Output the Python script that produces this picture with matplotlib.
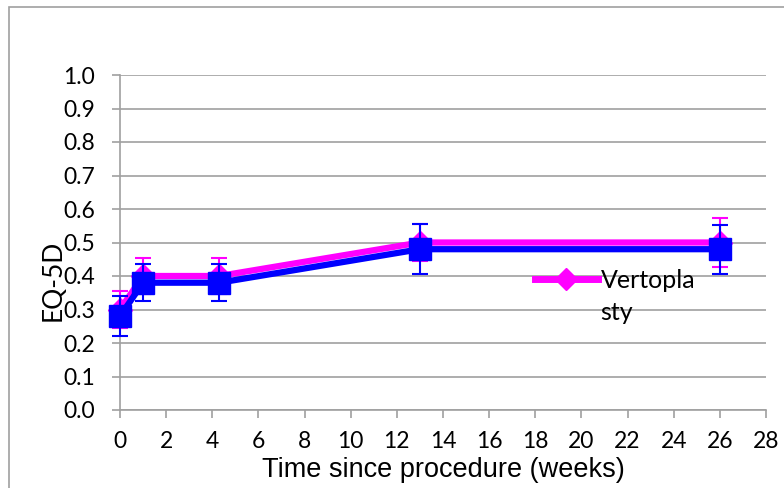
import matplotlib
matplotlib.use("Agg")
import matplotlib.pyplot as plt
from matplotlib.lines import Line2D
from matplotlib.patches import Rectangle

# Data
weeks = [0, 1, 4.3, 13, 26]
vertoplasty = [0.30, 0.40, 0.40, 0.50, 0.50]
vertoplasty_err = [0.055, 0.055, 0.055, 0.054, 0.074]
other = [0.28, 0.38, 0.38, 0.48, 0.48]
other_err = [0.06, 0.055, 0.055, 0.074, 0.073]

x_ticks = list(range(0, 29, 2))
y_ticks = [i / 10 for i in range(11)]

GRID = "#a0a0a0"
MAGENTA = "#ff00ff"
BLUE = "#0000ff"

fig = plt.figure(figsize=(7.84, 4.88), dpi=100)
ax = fig.add_axes([120 / 784, 78 / 488, 646 / 784, 335 / 488])

# outer chart border (clipped by the image on the right and bottom)
fig.patches.append(Rectangle((9 / 784, -0.1), 1.2, 1.1 - 7 / 488,
                             transform=fig.transFigure, fill=False,
                             edgecolor=GRID, linewidth=1.2))

series = [
    (vertoplasty, vertoplasty_err, MAGENTA, "D", 12, 3),
    (other, other_err, BLUE, "s", 15.5, 4),
]
for vals, errs, col, mk, ms, z in series:
    parts = ax.errorbar(weeks, vals, yerr=errs, color=col, linewidth=4.5,
                        marker=mk, markersize=ms, capsize=6,
                        elinewidth=1.5, capthick=1.5, zorder=z)
    for artist in parts.get_children():
        artist.set_clip_on(False)

ax.set_xlim(0, 28)
ax.set_ylim(0, 1.0)
ax.set_xticks(x_ticks)
ax.set_yticks(y_ticks)
ax.set_yticklabels(["{:.1f}".format(v) for v in y_ticks])

for side in ["top", "right"]:
    ax.spines[side].set_visible(False)
for side in ["left", "bottom"]:
    ax.spines[side].set_color(GRID)
    ax.spines[side].set_linewidth(1.2)
ax.yaxis.grid(True, color=GRID, linewidth=1.2)
ax.set_axisbelow(True)
ax.tick_params(axis="both", color=GRID, width=1.2, length=6,
               labelsize=16.5, labelfontfamily="Lato")
ax.tick_params(axis="y", pad=12)
ax.tick_params(axis="x", pad=9)

ax.set_xlabel("Time since procedure (weeks)", fontsize=19.5,
              family="Liberation Sans", labelpad=4)
fig.text(53 / 784, 1 - 280 / 488, "EQ-5D", rotation=90, ha="center",
         va="center", fontsize=19, family="Lato")

handle = Line2D([], [], color=MAGENTA, linewidth=5, marker="D",
                markersize=11)
leg = ax.legend([handle], ["Vertopla"], loc="center left",
                bbox_to_anchor=(535 / 784, 1 - 280 / 488),
                bbox_transform=fig.transFigure, frameon=False,
                handlelength=2.5, handletextpad=0.12, borderpad=0,
                borderaxespad=0, prop={"family": "Lato", "size": 18})

# wrapped second line of the legend label, placed under the first
fig.canvas.draw()
bb = leg.get_texts()[0].get_window_extent()
fig.text(bb.x0 / 784, (bb.y0 - 33) / 488, "sty", ha="left",
         va="bottom", fontsize=18, family="Lato")

fig.savefig("out.png", dpi=100)
